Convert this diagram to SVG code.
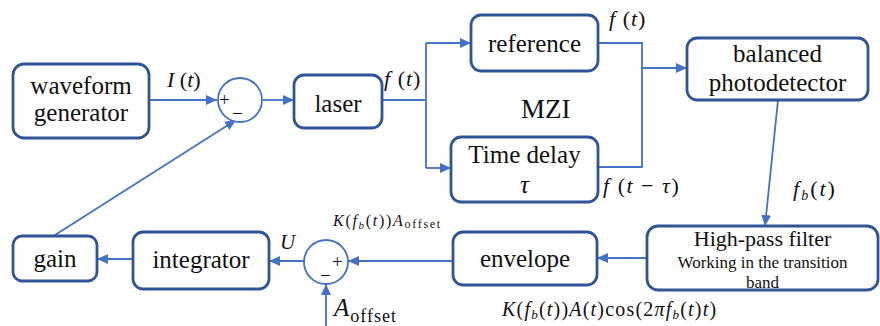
<svg xmlns="http://www.w3.org/2000/svg" width="880" height="326" viewBox="0 0 880 326" font-family="Liberation Serif, serif">
<style>
.box{fill:#fff;stroke:#2F5597;stroke-width:2.8}
.bt{font-family:"Liberation Serif",serif;fill:#111;text-anchor:middle}
.m{font-family:"Liberation Serif",serif;font-style:italic;fill:#111}
.n{font-style:normal}
.c{fill:none;stroke:#4472C4;stroke-width:1.8}
.sum{fill:#fff;stroke:#4472C4;stroke-width:1.8}
.s{font-family:"Liberation Serif",serif;font-size:19px;fill:#111}
</style>
<defs>
<marker id="ah" markerUnits="userSpaceOnUse" markerWidth="12" markerHeight="10" refX="11" refY="5" orient="auto">
<path d="M0,0 L11,5 L0,10 Z" fill="#4472C4"/>
</marker>
</defs>
<rect width="880" height="326" fill="#fff"/>

<g id="connectors">
<path class="c" d="M149,100 H217" marker-end="url(#ah)"/>
<path class="c" d="M263,100 H294" marker-end="url(#ah)"/>
<path class="c" d="M382,100 H426"/>
<path class="c" d="M426,43 V168"/>
<path class="c" d="M426,43 H471" marker-end="url(#ah)"/>
<path class="c" d="M426,168 H451" marker-end="url(#ah)"/>
<path class="c" d="M598,43 H642 V167 H598"/>
<path class="c" d="M642,68 H687" marker-end="url(#ah)"/>
<path class="c" d="M778,100 L765,226" marker-end="url(#ah)"/>
<path class="c" d="M647,258 H597" marker-end="url(#ah)"/>
<path class="c" d="M453,261 H348" marker-end="url(#ah)"/>
<path class="c" d="M304,261 H269" marker-end="url(#ah)"/>
<path class="c" d="M133,259 H97" marker-end="url(#ah)"/>
<path class="c" d="M55,235 L236,120" marker-end="url(#ah)"/>
<path class="c" d="M326,326 V284" marker-end="url(#ah)"/>
</g>

<g id="waveform">
<rect class="box" x="13" y="64" width="136" height="74" rx="11"/>
<text class="bt" x="81" y="94" font-size="25">waveform</text>
<text class="bt" x="81" y="121" font-size="25">generator</text>
</g>

<g id="sum1">
<circle class="sum" cx="240" cy="100" r="22"/>
<text class="s" x="219" y="106">+</text>
<text class="s" x="232" y="120">−</text>
</g>

<g id="laser">
<rect class="box" x="294" y="75" width="88" height="53" rx="10"/>
<text class="bt" x="338" y="112" font-size="25">laser</text>
</g>

<g id="reference">
<rect class="box" x="471" y="15" width="127" height="56" rx="10"/>
<text class="bt" x="534.5" y="52" font-size="25">reference</text>
</g>

<g id="timedelay">
<rect class="box" x="451" y="137" width="147" height="65" rx="10"/>
<text class="bt" x="524.5" y="163" font-size="25">Time delay</text>
<text class="bt" x="524.5" y="193" font-size="25" font-style="italic">τ</text>
</g>

<g id="photodetector">
<rect class="box" x="687" y="38" width="181" height="62" rx="10"/>
<text class="bt" x="777.5" y="62" font-size="25">balanced</text>
<text class="bt" x="777.5" y="91" font-size="25">photodetector</text>
</g>

<g id="hpf">
<rect class="box" x="647" y="226" width="231" height="64" rx="11"/>
<text class="bt" x="762.5" y="246" font-size="22">High-pass filter</text>
<text class="bt" x="762.5" y="268" font-size="17">Working in the transition</text>
<text class="bt" x="762.5" y="288" font-size="17">band</text>
</g>

<g id="envelope">
<rect class="box" x="453" y="232" width="144" height="53" rx="10"/>
<text class="bt" x="525" y="267" font-size="25">envelope</text>
</g>

<g id="sum2">
<circle class="sum" cx="326" cy="262" r="22"/>
<text class="s" x="332" y="268">+</text>
<text class="s" x="320" y="282">−</text>
</g>

<g id="integrator">
<rect class="box" x="133" y="232" width="136" height="57" rx="10"/>
<text class="bt" x="201" y="268" font-size="25">integrator</text>
</g>

<g id="gain">
<rect class="box" x="13" y="236" width="84" height="45" rx="9"/>
<text class="bt" x="55" y="267" font-size="25">gain</text>
</g>

<g id="labels">
<text class="m" x="167" y="87" font-size="22">I<tspan class="n"> (</tspan>t<tspan class="n">)</tspan></text>
<text class="m" x="384" y="86" font-size="22" letter-spacing="1">f<tspan class="n"> (</tspan>t<tspan class="n">)</tspan></text>
<text class="m" x="609" y="26" font-size="22" letter-spacing="1">f<tspan class="n"> (</tspan>t<tspan class="n">)</tspan></text>
<text class="m" x="603" y="193" font-size="22" letter-spacing="1.5">f<tspan class="n"> (</tspan>t<tspan class="n"> − </tspan>τ<tspan class="n">)</tspan></text>
<text class="m" x="793" y="196" font-size="22" letter-spacing="2">f<tspan font-size="14" dy="4">b</tspan><tspan class="n" dy="-4">(</tspan>t<tspan class="n">)</tspan></text>
<text x="521" y="118" font-size="27" fill="#111">MZI</text>
<text class="m" x="280" y="249" font-size="21">U</text>
<text class="m" x="333" y="226" font-size="16" letter-spacing="1.7">K<tspan class="n">(</tspan>f<tspan font-size="11" dy="3">b</tspan><tspan class="n" dy="-3">(</tspan>t<tspan class="n">))</tspan>A<tspan class="n" font-size="12" dy="2">offset</tspan></text>
<text class="m" x="334" y="316" font-size="25" letter-spacing="1">A<tspan class="n" font-size="18" dy="6">offset</tspan></text>
<text class="m" x="502" y="316" font-size="20" letter-spacing="1.2">K<tspan class="n">(</tspan>f<tspan font-size="13" dy="3">b</tspan><tspan class="n" dy="-3">(</tspan>t<tspan class="n">))</tspan>A<tspan class="n">(</tspan>t<tspan class="n">)cos(2</tspan>πf<tspan font-size="13" dy="3">b</tspan><tspan class="n" dy="-3">(</tspan>t<tspan class="n">)</tspan>t<tspan class="n">)</tspan></text>
</g>
</svg>
